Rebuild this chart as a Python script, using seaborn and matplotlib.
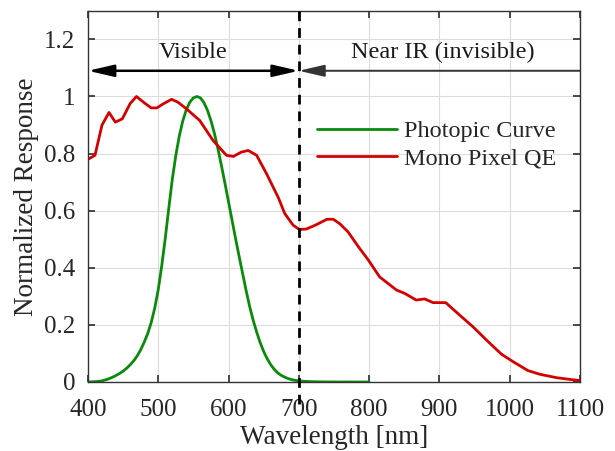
import numpy as np
import matplotlib
matplotlib.use("Agg")
import matplotlib.pyplot as plt
import pandas as pd
import seaborn as sns

# photopic luminosity curve (V lambda), 400-800 nm
photopic_nm = [400, 405, 410, 415, 420, 425, 430, 435, 440, 445, 450, 455, 460, 465,
               470, 475, 480, 485, 490, 495, 500, 505, 510, 515, 520, 525, 530, 535,
               540, 545, 550, 555, 560, 565, 570, 575, 580, 585, 590, 595, 600, 605,
               610, 615, 620, 625, 630, 635, 640, 645, 650, 655, 660, 665, 670, 675,
               680, 685, 690, 695, 700, 705, 710, 715, 720, 730, 740, 750, 760, 770,
               780, 790, 800]
photopic_val = [0.0004, 0.00064, 0.0012, 0.00218, 0.004, 0.0073, 0.0116, 0.01684,
                0.023, 0.0298, 0.038, 0.048, 0.06, 0.0739, 0.091, 0.1126, 0.139,
                0.1693, 0.208, 0.2586, 0.323, 0.4073, 0.503, 0.6082, 0.710, 0.7932,
                0.862, 0.9149, 0.954, 0.9803, 0.995, 1.0, 0.995, 0.9786, 0.952,
                0.9154, 0.870, 0.8163, 0.757, 0.6949, 0.631, 0.5668, 0.503, 0.4412,
                0.381, 0.321, 0.265, 0.217, 0.175, 0.1382, 0.107, 0.0816, 0.061,
                0.0446, 0.032, 0.0232, 0.017, 0.0119, 0.0082, 0.0057, 0.0041, 0.0029,
                0.0021, 0.0015, 0.001, 0.0005, 0.00025, 0.00012, 0.00006, 0.00003,
                0.00002, 0.0, 0.0]

# mono pixel quantum efficiency
qe_nm = [400, 410, 420, 430, 439, 449, 460, 469, 479, 490, 498, 507, 519, 528, 540,
         559, 578, 597, 607, 618, 628, 640, 654, 671, 680, 692, 701, 711, 725, 740,
         749, 758, 770, 785, 799, 815, 839, 851, 867, 879, 891, 909, 929, 948, 967,
         988, 1005, 1026, 1043, 1067, 1086, 1100]
qe_val = [0.78, 0.794, 0.90, 0.944, 0.91, 0.922, 0.975, 1.0, 0.98, 0.96, 0.96, 0.974,
          0.99, 0.98, 0.957, 0.916, 0.846, 0.794, 0.79, 0.805, 0.811, 0.794, 0.73,
          0.645, 0.59, 0.549, 0.534, 0.536, 0.551, 0.57, 0.57, 0.555, 0.526, 0.473,
          0.427, 0.368, 0.322, 0.31, 0.287, 0.291, 0.278, 0.278, 0.234, 0.193, 0.147,
          0.098, 0.071, 0.04, 0.027, 0.015, 0.009, 0.005]

xticks = [400, 500, 600, 700, 800, 900, 1000, 1100]
yticks = [0, 0.2, 0.4, 0.6, 0.8, 1.0, 1.2]
ytick_labels = ["0", "0.2", "0.4", "0.6", "0.8", "1", "1.2"]

sns.set_theme(style="ticks")
plt.rcParams['font.family'] = ['Liberation Serif', 'DejaVu Serif']

fig, ax = plt.subplots(figsize=(6.15, 4.51), dpi=100)
fig.subplots_adjust(left=0.143, right=0.943, top=0.976, bottom=0.153)

df_p = pd.DataFrame({"nm": photopic_nm, "val": photopic_val})
df_q = pd.DataFrame({"nm": qe_nm, "val": qe_val})
sns.lineplot(data=df_p, x="nm", y="val", ax=ax, color="#0a8a0a", lw=2,
             label="Photopic Curve")
sns.lineplot(data=df_q, x="nm", y="val", ax=ax, color="#d40000", lw=2,
             label="Mono Pixel QE")

ax.set_xlim(400, 1100)
ax.set_ylim(0, 1.3)
ax.set_xticks(xticks)
ax.set_yticks(yticks)
ax.set_yticklabels(ytick_labels)
ax.grid(True, color="#dcdcdc", lw=0.8)
ax.set_axisbelow(True)
ax.tick_params(direction="in", length=5, top=True, right=True, labelsize=18,
               color="#333333", labelcolor="#262626")
ax.tick_params(axis="x", pad=12)
ax.tick_params(axis="y", pad=9)
for s in ax.spines.values():
    s.set_color("#333333")
    s.set_linewidth(1.0)
ax.set_xlabel("Wavelength [nm]", fontsize=19.5, color="#262626", labelpad=3)
ax.set_ylabel("Normalized Response", fontsize=19.5, color="#262626", labelpad=4)

# dashed boundary at 700 nm
ax.axvline(700, ymin=-0.06, ymax=1.0, color="black", lw=2, ls=(0, (3.5, 2.5)),
           clip_on=False, zorder=5)

# region arrows
ax.annotate("", xy=(400, 1.09), xytext=(700, 1.09),
            arrowprops=dict(arrowstyle="<|-|>,head_length=1.3,head_width=0.3",
                            color="black", lw=1.8, shrinkA=0, shrinkB=0))
ax.annotate("", xy=(700, 1.09), xytext=(1100, 1.09),
            arrowprops=dict(arrowstyle="-|>,head_length=1.3,head_width=0.3",
                            color="#333333", lw=1.4, shrinkA=0, shrinkB=0))
ax.text(550, 1.155, "Visible", ha="center", va="center", fontsize=17.5,
        color="#1a1a1a")
ax.text(905, 1.155, "Near IR (invisible)", ha="center", va="center", fontsize=17.5,
        color="#1a1a1a")

leg = ax.legend(loc="upper left", bbox_to_anchor=(0.465, 0.705), frameon=False,
                fontsize=17.5, handlelength=3.3, handletextpad=0.3,
                borderaxespad=0, borderpad=0, labelspacing=0.22)

fig.savefig("out.png", dpi=100)
